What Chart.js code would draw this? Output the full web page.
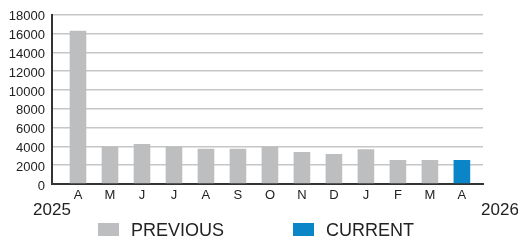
<!DOCTYPE html>
<html>
<head>
<meta charset="utf-8">
<script src="https://cdn.jsdelivr.net/npm/chart.js@4/dist/chart.umd.min.js"></script>
<style>
  html, body { margin: 0; padding: 0; background: #fff; }
  #wrap { width: 518px; height: 244px; }
</style>
</head>
<body>
<div id="wrap"><canvas id="myChart" width="518" height="244"></canvas></div>
<script>
// month initials, Apr 2025 .. Apr 2026
const months = ['A', 'M', 'J', 'J', 'A', 'S', 'O', 'N', 'D', 'J', 'F', 'M', 'A'];
const previous = [16300, 4000, 4250, 4000, 3750, 3750, 4000, 3400, 3200, 3700, 2550, 2550, null];
const current = [null, null, null, null, null, null, null, null, null, null, null, null, 2550];
const yTicks = [0, 2000, 4000, 6000, 8000, 10000, 12000, 14000, 16000, 18000];
const startYear = '2025';
const endYear = '2026';

const grey = '#bdbec0';
const blue = '#0a86c8';
const textColor = '#222';
const fontFamily = '"Liberation Sans", Arial, sans-serif';

function toPoints(values) {
    return values.map((v, i) => ({ x: i, y: v }));
}

// year labels under the axis + the legend row
const extras = {
    id: 'extras',
    afterDraw(chart) {
        const ctx = chart.ctx;
        const area = chart.chartArea;
        ctx.save();
        ctx.fillStyle = textColor;
        ctx.textBaseline = 'middle';
        ctx.textAlign = 'center';
        ctx.font = '17px ' + fontFamily;
        ctx.fillText(startYear, area.left, 210);
        ctx.fillText(endYear, area.right + 17, 210);

        // legend
        const items = chart.data.datasets.map((ds, i) => ({
            label: ds.label,
            color: ds.backgroundColor,
            x: i === 0 ? 98 : 293
        }));
        ctx.textAlign = 'left';
        ctx.font = '18px ' + fontFamily;
        items.forEach(it => {
            ctx.fillStyle = it.color;
            ctx.fillRect(it.x, 223, 21, 13);
            ctx.fillStyle = textColor;
            ctx.fillText(it.label, it.x + 33, 231);
        });
        ctx.restore();
    }
};

const ctx = document.getElementById('myChart').getContext('2d');
const chart = new Chart(ctx, {
    type: 'bar',
    data: {
        datasets: [
            {
                label: 'PREVIOUS',
                data: toPoints(previous),
                backgroundColor: grey,
                grouped: false
            },
            {
                label: 'CURRENT',
                data: toPoints(current),
                backgroundColor: blue,
                grouped: false
            }
        ]
    },
    options: {
        responsive: false,
        animation: false,
        categoryPercentage: 1,
        barPercentage: 0.52,
        layout: {
            padding: { top: 8, right: 35, bottom: 0, left: 0 }
        },
        plugins: {
            legend: { display: false },
            tooltip: { enabled: false }
        },
        scales: {
            x: {
                type: 'linear',
                offset: false,
                min: -0.8125,
                max: 12.66,
                afterFit: (scale) => { scale.height = 60; },
                grid: { display: false, drawTicks: false },
                border: { display: true, color: '#333', width: 2 },
                ticks: {
                    stepSize: 1,
                    includeBounds: false,
                    autoSkip: false,
                    maxRotation: 0,
                    padding: 4,
                    color: textColor,
                    font: { family: fontFamily, size: 13 },
                    callback: (v) => (Number.isInteger(v) && months[v] !== undefined) ? months[v] : ''
                }
            },
            y: {
                min: yTicks[0],
                max: yTicks[yTicks.length - 1],
                afterFit: (scale) => { scale.width = 52; },
                afterBuildTicks: (scale) => { scale.ticks = yTicks.map(v => ({ value: v })); },
                grid: { color: '#c6c6c6', lineWidth: 1.5, drawTicks: false },
                border: { display: true, color: '#333', width: 2 },
                ticks: {
                    padding: 7,
                    labelOffset: 2,
                    color: textColor,
                    font: { family: fontFamily, size: 13 },
                    callback: (v) => String(v)
                }
            }
        }
    },
    plugins: [extras]
});
</script>
</body>
</html>
